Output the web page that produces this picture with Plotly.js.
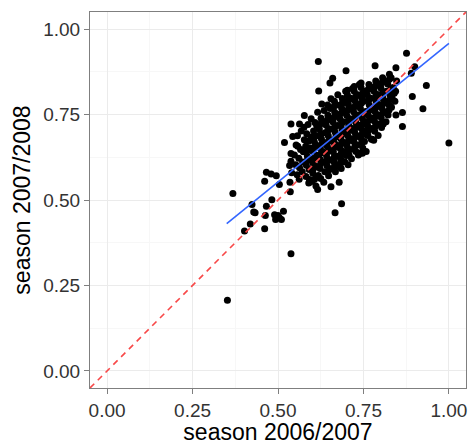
<!DOCTYPE html>
<html>
<head>
<meta charset="utf-8">
<script src="https://cdn.plot.ly/plotly-3.0.1.min.js"></script>
<style>html,body{margin:0;padding:0;background:#fff;}#chart{width:472px;height:445px;}</style>
</head>
<body>
<div id="chart"></div>
<script>
// [season 2006/2007, season 2007/2008] pairs
var outliers = [
  [0.618,0.905],[0.876,0.929],[0.784,0.893],[0.845,0.887],[0.900,0.890],[0.890,0.871],
  [0.699,0.878],[0.660,0.856],[0.652,0.842],[0.619,0.819],[0.934,0.835],[0.893,0.803],
  [0.924,0.767],[0.864,0.756],[0.845,0.749],[0.864,0.715],[0.808,0.722],[1.000,0.667],
  [0.776,0.678],[0.747,0.637],[0.740,0.637],[0.577,0.747],[0.538,0.722],[0.563,0.722],
  [0.519,0.668],[0.538,0.636],[0.538,0.613],[0.534,0.601],[0.540,0.580],[0.535,0.552],
  [0.536,0.524],[0.830,0.773],[0.840,0.812],[0.543,0.686],[0.558,0.657],[0.592,0.560],
  [0.590,0.550],[0.600,0.555],[0.780,0.675],[0.760,0.690],[0.700,0.630],[0.665,0.611]
];
var lowerGroup = [
  [0.495,0.571],[0.504,0.545],[0.466,0.581],[0.480,0.576],[0.461,0.555],[0.368,0.519],
  [0.424,0.487],[0.429,0.465],[0.433,0.463],[0.482,0.501],[0.466,0.482],[0.463,0.455],
  [0.461,0.416],[0.419,0.430],[0.402,0.409],[0.493,0.443],[0.504,0.448],[0.516,0.467],
  [0.510,0.443],[0.500,0.455],[0.490,0.457],[0.538,0.343],[0.352,0.207],[0.667,0.463],
  [0.686,0.489],[0.679,0.552],[0.655,0.539],[0.616,0.531]
];
var mainCluster = [
  [0.552,0.603],[0.548,0.632],[0.556,0.574],[0.553,0.661],[0.557,0.688],
  [0.563,0.594],[0.561,0.622],[0.566,0.648],[0.568,0.702],[0.562,0.561],
  [0.572,0.611],[0.574,0.641],[0.577,0.676],[0.571,0.583],[0.576,0.713],
  [0.583,0.602],[0.586,0.628],[0.581,0.657],[0.584,0.694],[0.588,0.721],[0.582,0.569],
  [0.592,0.618],[0.594,0.652],[0.596,0.684],[0.591,0.589],[0.597,0.738],[0.593,0.553],
  [0.603,0.607],[0.601,0.643],[0.606,0.671],[0.604,0.702],[0.608,0.727],[0.602,0.578],[0.607,0.561],
  [0.612,0.598],[0.614,0.631],[0.611,0.662],[0.617,0.688],[0.613,0.718],[0.616,0.757],[0.618,0.572],[0.611,0.541],
  [0.622,0.621],[0.624,0.652],[0.627,0.679],[0.621,0.708],[0.626,0.739],[0.623,0.592],[0.628,0.781],[0.625,0.563],
  [0.633,0.612],[0.631,0.641],[0.636,0.668],[0.638,0.697],[0.632,0.728],[0.635,0.762],[0.637,0.583],[0.634,0.552],
  [0.642,0.629],[0.644,0.657],[0.647,0.688],[0.641,0.719],[0.646,0.748],[0.643,0.601],[0.648,0.571],[0.645,0.778],
  [0.652,0.618],[0.656,0.649],[0.651,0.677],[0.654,0.708],[0.658,0.737],[0.653,0.768],[0.657,0.592],[0.655,0.796],
  [0.662,0.641],[0.664,0.668],[0.667,0.699],[0.661,0.728],[0.666,0.757],[0.663,0.612],[0.668,0.583],[0.665,0.789],
  [0.673,0.628],[0.671,0.661],[0.676,0.688],[0.674,0.718],[0.678,0.748],[0.672,0.778],[0.677,0.601],[0.675,0.808],
  [0.682,0.651],[0.684,0.679],[0.687,0.708],[0.681,0.738],[0.686,0.769],[0.683,0.622],[0.688,0.797],[0.685,0.592],
  [0.692,0.642],[0.694,0.668],[0.697,0.701],[0.691,0.729],[0.696,0.758],[0.693,0.789],[0.698,0.818],[0.695,0.612],
  [0.702,0.659],[0.704,0.688],[0.707,0.718],[0.701,0.748],[0.706,0.779],[0.703,0.807],[0.708,0.631],[0.705,0.603],
  [0.712,0.648],[0.714,0.679],[0.717,0.709],[0.711,0.738],[0.716,0.768],[0.713,0.798],[0.718,0.826],[0.715,0.621],
  [0.722,0.671],[0.724,0.699],[0.727,0.728],[0.721,0.758],[0.726,0.789],[0.723,0.818],[0.728,0.642],
  [0.732,0.661],[0.734,0.688],[0.737,0.719],[0.731,0.749],[0.736,0.779],[0.733,0.808],[0.738,0.838],[0.735,0.632],
  [0.742,0.682],[0.744,0.709],[0.747,0.738],[0.741,0.768],[0.746,0.798],[0.743,0.829],[0.748,0.652],
  [0.752,0.701],[0.754,0.728],[0.757,0.759],[0.751,0.789],[0.756,0.818],[0.753,0.671],[0.758,0.642],
  [0.762,0.718],[0.764,0.748],[0.767,0.778],[0.761,0.808],[0.766,0.838],[0.763,0.689],
  [0.772,0.709],[0.774,0.739],[0.777,0.769],[0.771,0.798],[0.776,0.828],[0.773,0.678],
  [0.782,0.731],[0.784,0.758],[0.787,0.788],[0.781,0.818],[0.786,0.848],[0.783,0.701],
  [0.792,0.722],[0.794,0.749],[0.797,0.779],[0.791,0.809],[0.796,0.838],[0.793,0.689],
  [0.802,0.741],[0.804,0.769],[0.807,0.798],[0.801,0.828],[0.806,0.858],[0.803,0.712],
  [0.812,0.758],[0.814,0.788],[0.817,0.818],[0.811,0.848],[0.816,0.729],
  [0.822,0.749],[0.824,0.779],[0.827,0.809],[0.821,0.839],[0.826,0.868],
  [0.832,0.771],[0.834,0.798],[0.837,0.829],[0.831,0.858],
  [0.842,0.789],[0.844,0.818],[0.847,0.848]
];
var denseCore = [
  [0.585,0.615],[0.587,0.645],[0.589,0.672],
  [0.605,0.622],[0.607,0.655],[0.609,0.688],[0.604,0.592],
  [0.625,0.607],[0.627,0.638],[0.629,0.665],[0.626,0.694],[0.624,0.722],
  [0.645,0.615],[0.647,0.642],[0.649,0.672],[0.646,0.703],[0.644,0.733],[0.648,0.586],
  [0.665,0.627],[0.667,0.655],[0.669,0.684],[0.666,0.713],[0.664,0.742],[0.668,0.598],[0.663,0.773],
  [0.685,0.636],[0.687,0.665],[0.689,0.694],[0.686,0.723],[0.684,0.753],[0.688,0.783],[0.683,0.607],
  [0.705,0.645],[0.707,0.673],[0.709,0.703],[0.706,0.733],[0.704,0.763],[0.708,0.793],[0.703,0.821],
  [0.725,0.657],[0.727,0.685],[0.729,0.713],[0.726,0.743],[0.724,0.773],[0.728,0.803],[0.723,0.832],
  [0.745,0.668],[0.747,0.695],[0.749,0.723],[0.746,0.753],[0.744,0.783],[0.748,0.813],[0.743,0.842],
  [0.765,0.703],[0.767,0.733],[0.769,0.763],[0.766,0.793],[0.764,0.823],
  [0.785,0.716],[0.787,0.745],[0.789,0.773],[0.786,0.803],[0.784,0.833],
  [0.805,0.727],[0.807,0.755],[0.809,0.783],[0.806,0.813],[0.804,0.843],
  [0.825,0.763],[0.827,0.793],[0.829,0.823],[0.826,0.853]
];
// linear fit line endpoints
var fitX = [0.35, 1.0];
var fitY = [0.431, 0.958];
// identity reference line
var identityLine = [-0.05, 1.05];
var tickVals = [0, 0.25, 0.5, 0.75, 1];
var tickText = ["0.00", "0.25", "0.50", "0.75", "1.00"];

var all = outliers.concat(lowerGroup, mainCluster, denseCore);
var xs = all.map(function(p){return p[0];});
var ys = all.map(function(p){return p[1];});

var traces = [
  {x: xs, y: ys, type: 'scatter', mode: 'markers',
   marker: {color: '#000000', size: 7, symbol: 'circle'}, hoverinfo: 'skip'},
  {x: identityLine, y: identityLine, type: 'scatter', mode: 'lines',
   line: {color: '#F84848', width: 1.6, dash: '6px,5px'}, hoverinfo: 'skip'},
  {x: fitX, y: fitY, type: 'scatter', mode: 'lines',
   line: {color: '#3366FF', width: 1.6}, hoverinfo: 'skip'}
];

function axis(title, standoff) {
  return {
    range: [-0.05, 1.05],
    tickvals: tickVals, ticktext: tickText,
    ticks: 'outside', ticklen: 5, tickcolor: '#7F7F7F', tickwidth: 1,
    tickfont: {family: 'Liberation Sans, Arial, sans-serif', size: 19, color: '#333333'},
    showgrid: true, gridcolor: '#EBEBEB', gridwidth: 1,
    minor: {dtick: 0.125, tick0: 0.125, showgrid: true, gridcolor: '#F7F7F7', gridwidth: 1, ticks: ''},
    zeroline: false,
    showline: true, linecolor: '#7F7F7F', linewidth: 1, mirror: true,
    title: {text: title, font: {family: 'Liberation Sans, Arial, sans-serif', size: 23, color: '#000000'}, standoff: standoff},
    automargin: false,
    fixedrange: true
  };
}

var layout = {
  width: 472, height: 445,
  margin: {l: 90, r: 6, t: 12, b: 57},
  paper_bgcolor: '#FFFFFF', plot_bgcolor: '#FFFFFF',
  showlegend: false,
  xaxis: axis('season 2006/2007', 10),
  yaxis: axis('season 2007/2008', 6)
};

Plotly.newPlot('chart', traces, layout, {displayModeBar: false, staticPlot: true});
</script>
</body>
</html>
